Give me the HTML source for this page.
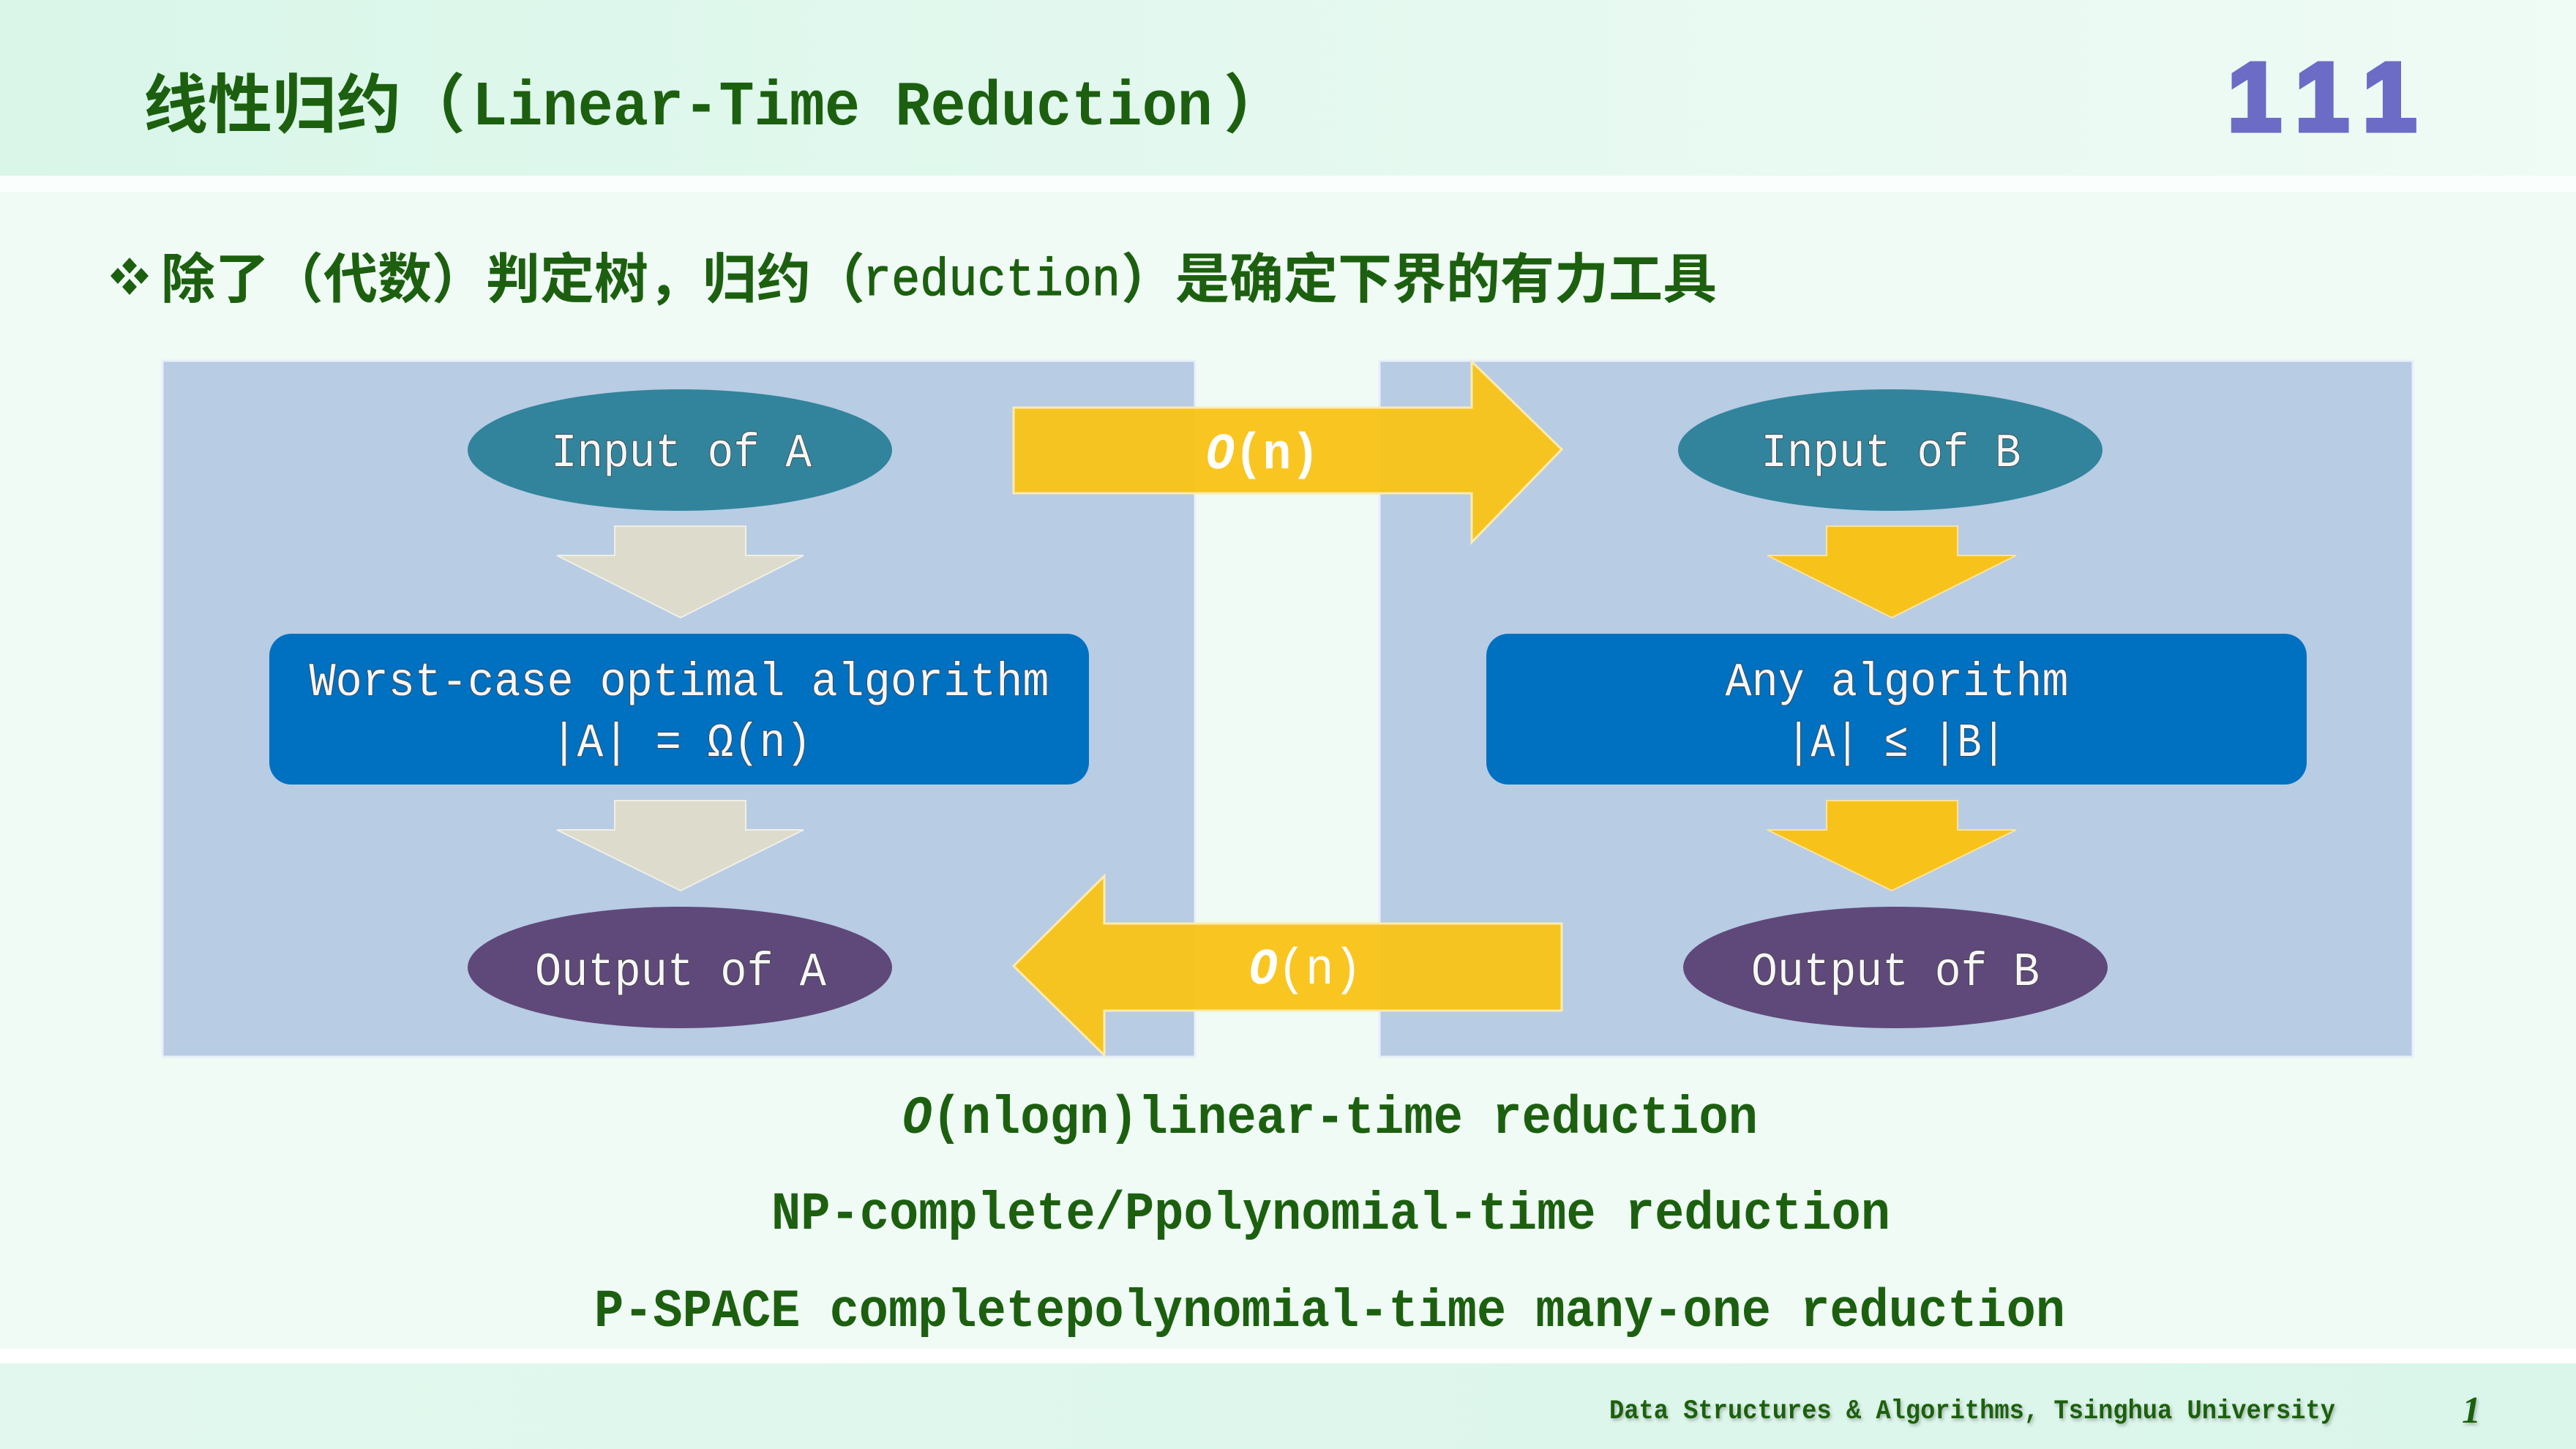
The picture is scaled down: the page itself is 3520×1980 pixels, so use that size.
<!DOCTYPE html>
<html>
<head>
<meta charset="utf-8">
<style>
  html, body { margin:0; padding:0; width:3520px; height:1980px; overflow:hidden; background:#F0FBF6; }
  svg { display:block; }
  .mono { font-family: "Liberation Mono", "DejaVu Sans Mono", monospace; }
  .cjk { font-family: "Liberation Sans", "Noto Sans CJK SC", "WenQuanYi Zen Hei", sans-serif; }
  .box { font-family: "Liberation Mono", "DejaVu Sans Mono", monospace; font-size:65px; fill:#F6F6F6; stroke:#3c3c3c; stroke-width:1.6px; paint-order:stroke; }
</style>
</head>
<body>
<svg width="3520" height="1980" viewBox="0 0 3520 1980" xmlns="http://www.w3.org/2000/svg">
  <defs>
    <linearGradient id="hdr" x1="0" y1="0" x2="1" y2="0">
      <stop offset="0" stop-color="#D9F6E9"/>
      <stop offset="0.6" stop-color="#E6F9F0"/>
      <stop offset="1" stop-color="#EFFBF5"/>
    </linearGradient>
    <linearGradient id="ftr" x1="0" y1="0" x2="1" y2="0">
      <stop offset="0" stop-color="#E2F8EE"/>
      <stop offset="1" stop-color="#DAF5EA"/>
    </linearGradient>
    <filter id="sh" x="-5%" y="-20%" width="110%" height="150%">
      <feDropShadow dx="2" dy="3" stdDeviation="2" flood-color="#000" flood-opacity="0.25"/>
    </filter>
  </defs>

  <!-- backgrounds -->
  <rect x="0" y="0" width="3520" height="1980" fill="#F0FBF6"/>
  <rect x="0" y="0" width="3520" height="240" fill="url(#hdr)"/>
  <rect x="0" y="240" width="3520" height="22" fill="#FAFEFC"/>
  <rect x="0" y="1843" width="3520" height="20" fill="#FFFFFF"/>
  <rect x="0" y="1863" width="3520" height="117" fill="url(#ftr)"/>

  <!-- title -->
  <text class="cjk" x="196" y="174" font-size="88" font-weight="bold" fill="#1C600F" textLength="440" lengthAdjust="spacingAndGlyphs">线性归约（</text>
  <text class="mono" x="645" y="170" font-size="86" font-weight="bold" fill="#1C600F" textLength="1012" lengthAdjust="spacingAndGlyphs">Linear-Time Reduction</text>
  <text class="cjk" x="1672" y="174" font-size="88" font-weight="bold" fill="#1C600F">）</text>

  <!-- page number -->
  <text x="3044" y="178" font-family="Liberation Sans, sans-serif" font-size="132" font-weight="bold" fill="#6C6BC6" stroke="#6C6BC6" stroke-width="7" stroke-linejoin="miter" textLength="258" lengthAdjust="spacing">111</text>

  <!-- subtitle bullet -->
  <g fill="#1C600F">
    <polygon points="177,352 187,363 177,374 167,363"/>
    <polygon points="161,366 171,377 161,388 151,377"/>
    <polygon points="193,366 203,377 193,388 183,377"/>
    <polygon points="177,381 187,392 177,403 167,392"/>
  </g>
  <!-- subtitle -->
  <text class="cjk" x="220" y="407" font-size="74" font-weight="bold" fill="#1C600F" textLength="962" lengthAdjust="spacingAndGlyphs">除了（代数）判定树，归约（</text>
  <text class="mono" x="1179" y="403" font-size="72" fill="#1C600F" stroke="#1C600F" stroke-width="1.2" textLength="352" lengthAdjust="spacingAndGlyphs">reduction</text>
  <text class="cjk" x="1532" y="407" font-size="74" font-weight="bold" fill="#1C600F" textLength="814" lengthAdjust="spacingAndGlyphs">）是确定下界的有力工具</text>

  <!-- panels -->
  <rect x="222" y="493" width="1411" height="951" fill="#B8CCE4" stroke="#E8EFF8" stroke-width="3"/>
  <rect x="1885" y="493" width="1412" height="951" fill="#B8CCE4" stroke="#E8EFF8" stroke-width="3"/>

  <!-- left column -->
  <ellipse cx="929" cy="615" rx="290" ry="83" fill="#31849B"/>
  <text class="box" x="931" y="637" text-anchor="middle" textLength="356" lengthAdjust="spacingAndGlyphs">Input of A</text>

  <polygon points="840,719 1019,719 1019,759 1098,759 930,844 761,759 840,759" fill="#DDDBCB" stroke="#F0EFE6" stroke-width="2"/>

  <rect x="368" y="866" width="1120" height="206" rx="30" ry="30" fill="#0070C0"/>
  <text class="box" x="928" y="950" text-anchor="middle" textLength="1011" lengthAdjust="spacingAndGlyphs">Worst-case optimal algorithm</text>
  <text class="box" x="931" y="1033" text-anchor="middle" textLength="356" lengthAdjust="spacingAndGlyphs">|A| = Ω(n)</text>

  <polygon points="840,1094 1019,1094 1019,1134 1098,1134 930,1217 761,1134 840,1134" fill="#DDDBCB" stroke="#F0EFE6" stroke-width="2"/>

  <ellipse cx="929" cy="1322" rx="290" ry="83" fill="#5F497A"/>
  <text class="box" x="930" y="1346" text-anchor="middle" textLength="398" lengthAdjust="spacingAndGlyphs">Output of A</text>

  <!-- right column -->
  <ellipse cx="2583" cy="615" rx="290" ry="83" fill="#31849B"/>
  <text class="box" x="2584" y="637" text-anchor="middle" textLength="355" lengthAdjust="spacingAndGlyphs">Input of B</text>

  <polygon points="2496,719 2675,719 2675,759 2755,759 2585,844 2415,759 2496,759" fill="#F7C31B" stroke="#FBE3A0" stroke-width="2"/>

  <rect x="2031" y="866" width="1121" height="206" rx="30" ry="30" fill="#0070C0"/>
  <text class="box" x="2592" y="950" text-anchor="middle" textLength="469" lengthAdjust="spacingAndGlyphs">Any algorithm</text>
  <text class="box" x="2591" y="1033" text-anchor="middle" textLength="300" lengthAdjust="spacingAndGlyphs">|A| ≤ |B|</text>

  <polygon points="2496,1094 2675,1094 2675,1134 2755,1134 2585,1217 2415,1134 2496,1134" fill="#F7C31B" stroke="#FBE3A0" stroke-width="2"/>

  <ellipse cx="2590" cy="1322" rx="290" ry="83" fill="#5F497A"/>
  <text class="box" x="2590" y="1346" text-anchor="middle" textLength="394" lengthAdjust="spacingAndGlyphs">Output of B</text>

  <!-- big yellow arrows -->
  <polygon points="1385,557 2011,557 2011,494 2134,614 2011,741 2011,674 1385,674" fill="#F9C418" fill-opacity="0.96" stroke="#FCEBB0" stroke-width="3"/>
  <text class="mono" x="1648" y="640" font-size="70" font-weight="bold" fill="#FFFFFF" textLength="155" lengthAdjust="spacingAndGlyphs"><tspan font-style="italic">O</tspan>(n)</text>

  <polygon points="2134,1262 1509,1262 1509,1197 1385,1320 1509,1442 1509,1381 2134,1381" fill="#F9C418" fill-opacity="0.96" stroke="#FCEBB0" stroke-width="3"/>
  <text class="mono" x="1707" y="1344" font-size="70" fill="#FFFFFF" textLength="154" lengthAdjust="spacingAndGlyphs"><tspan font-style="italic" font-weight="bold">O</tspan>(n)</text>

  <!-- bottom lines -->
  <text class="mono" x="1233" y="1548" font-size="73" font-weight="bold" fill="#1C600F" textLength="1169" lengthAdjust="spacingAndGlyphs"><tspan font-style="italic">O</tspan>(nlogn)linear-time reduction</text>
  <text class="mono" x="1054" y="1679" font-size="73" font-weight="bold" fill="#1C600F" textLength="1529" lengthAdjust="spacingAndGlyphs">NP-complete/Ppolynomial-time reduction</text>
  <text class="mono" x="812" y="1812" font-size="73" font-weight="bold" fill="#1C600F" textLength="2010" lengthAdjust="spacingAndGlyphs">P-SPACE completepolynomial-time many-one reduction</text>

  <!-- footer -->
  <text class="mono" x="2199" y="1938" font-size="37" font-weight="bold" fill="#1C600F" textLength="992" lengthAdjust="spacingAndGlyphs" filter="url(#sh)">Data Structures &amp; Algorithms, Tsinghua University</text>
  <text x="3364" y="1944" font-family="Liberation Serif, serif" font-size="52" font-style="italic" font-weight="bold" fill="#1C600F" filter="url(#sh)">1</text>
</svg>
</body>
</html>
